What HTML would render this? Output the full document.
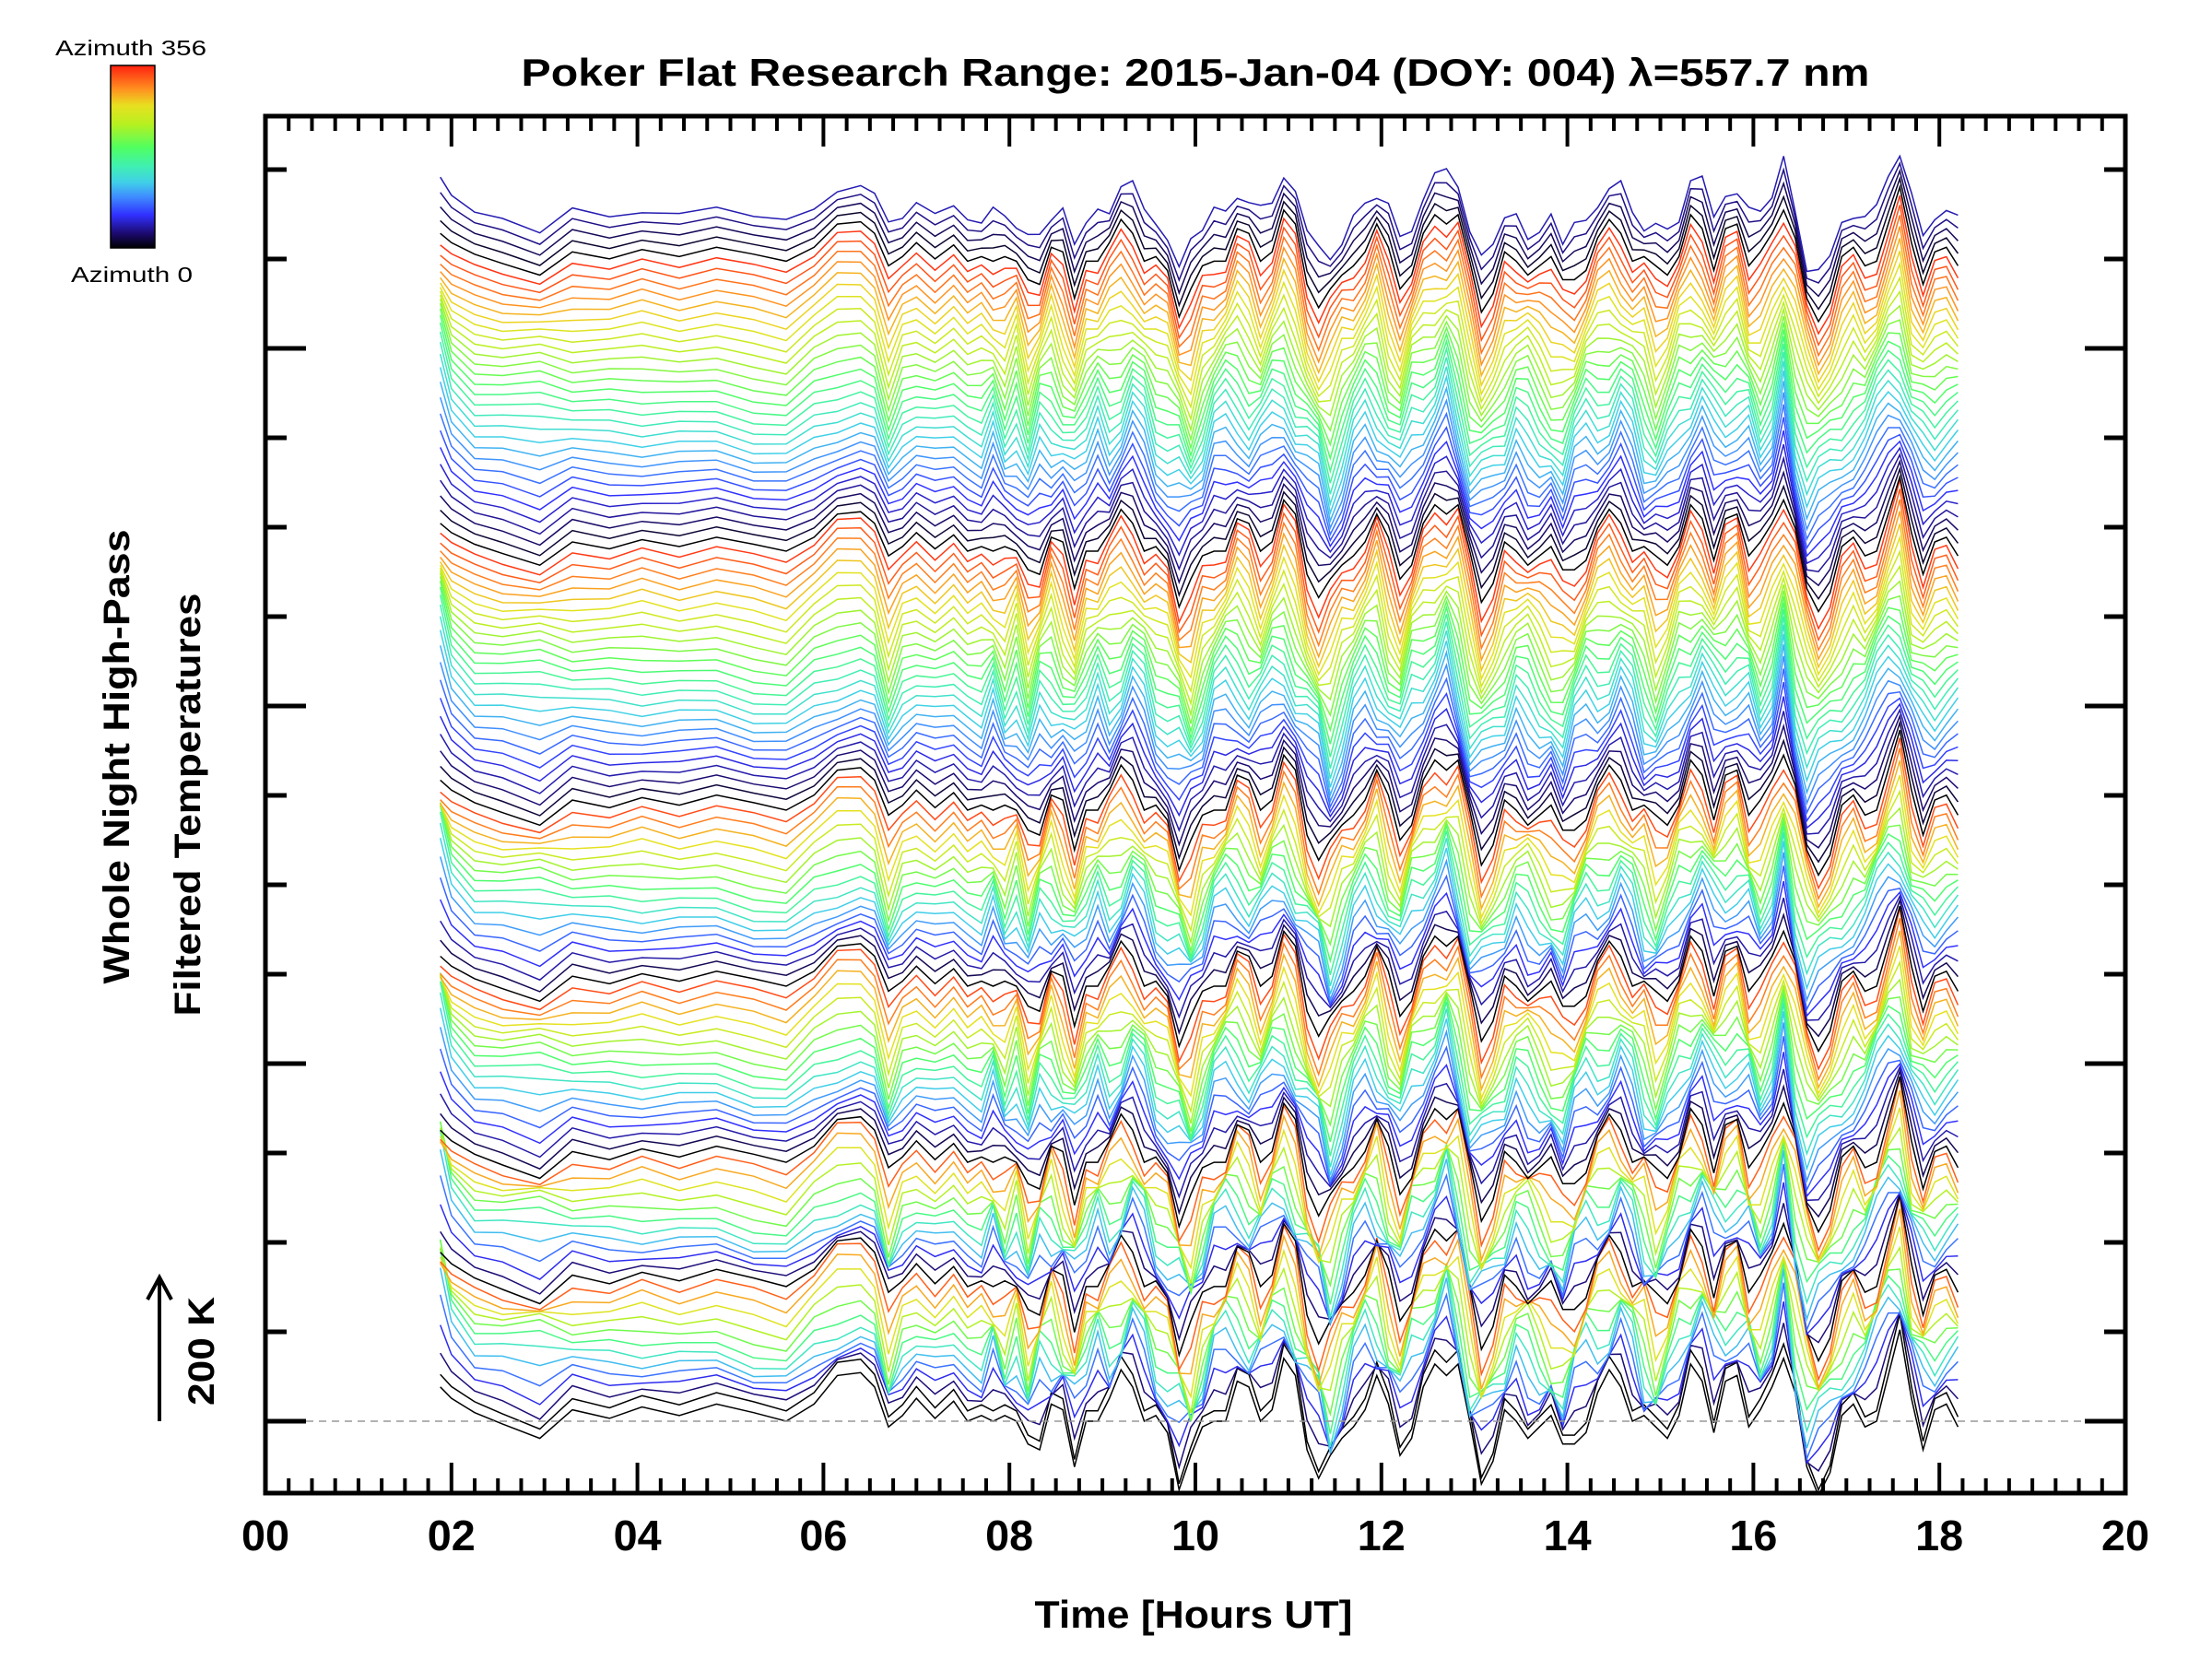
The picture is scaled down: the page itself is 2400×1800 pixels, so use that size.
<!DOCTYPE html>
<html><head><meta charset="utf-8"><style>
html,body{margin:0;padding:0;background:#fff;}
svg{display:block;}
text{font-family:"Liberation Sans",sans-serif;fill:#000;}
</style></head><body>
<svg id="chart" width="2400" height="1800" viewBox="0 0 2400 1800" xmlns="http://www.w3.org/2000/svg">
<defs>
<clipPath id="plotclip"><rect x="290" y="128" width="2014" height="1490"/></clipPath>
<linearGradient id="cbgrad" x1="0" y1="1" x2="0" y2="0">
<stop offset="0" stop-color="#000000"/><stop offset="0.08" stop-color="#1c0a70"/><stop offset="0.18" stop-color="#3030ff"/><stop offset="0.28" stop-color="#3f8cff"/><stop offset="0.36" stop-color="#40d0e8"/><stop offset="0.45" stop-color="#40f0b0"/><stop offset="0.55" stop-color="#50ff60"/><stop offset="0.68" stop-color="#b8f020"/><stop offset="0.78" stop-color="#e8e020"/><stop offset="0.87" stop-color="#ff9020"/><stop offset="1" stop-color="#ff2010"/>
</linearGradient>
</defs>
<rect x="0" y="0" width="2400" height="1800" fill="#fff"/>
<text x="1297" y="93" font-size="42" font-weight="bold" text-anchor="middle" textLength="1463" lengthAdjust="spacingAndGlyphs">Poker Flat Research Range: 2015-Jan-04 (DOY: 004) λ=557.7 nm</text>
<g>
<rect x="120" y="71" width="48" height="198" fill="url(#cbgrad)" stroke="#000" stroke-width="1.5"/>
<text x="142" y="60" font-size="23" text-anchor="middle" textLength="164" lengthAdjust="spacingAndGlyphs">Azimuth 356</text>
<text x="143" y="306" font-size="23" text-anchor="middle" textLength="132" lengthAdjust="spacingAndGlyphs">Azimuth 0</text>
</g>
<g id="lines" clip-path="url(#plotclip)"></g>
<line x1="332" y1="1542" x2="2304" y2="1542" stroke="#999" stroke-width="1.5" stroke-dasharray="8 6"/>
<g id="axes"></g>
<text x="1295" y="1766" font-size="42" font-weight="bold" text-anchor="middle" textLength="345" lengthAdjust="spacingAndGlyphs">Time [Hours UT]</text>
<text transform="translate(140,821) rotate(-90)" font-size="40" font-weight="bold" text-anchor="middle" textLength="493" lengthAdjust="spacingAndGlyphs">Whole Night High-Pass</text>
<text transform="translate(217,873) rotate(-90)" font-size="40" font-weight="bold" text-anchor="middle" textLength="459" lengthAdjust="spacingAndGlyphs">Filtered Temperatures</text>
<g>
<line x1="173" y1="1542" x2="173" y2="1388" stroke="#000" stroke-width="4"/>
<polyline points="160,1410 173,1386 186,1410" fill="none" stroke="#000" stroke-width="4"/>
</g>
<text transform="translate(232,1466) rotate(-90)" font-size="40" font-weight="bold" text-anchor="middle" textLength="118" lengthAdjust="spacingAndGlyphs">200 K</text>
</svg>
<script>
const times = [1.88,2.0,2.25,2.55,2.95,3.3,3.7,4.05,4.45,4.85,5.25,5.6,5.9,6.15,6.4,6.55,6.7,6.85,7.0,7.2,7.4,7.55,
7.7,7.825,7.95,8.075,8.2,8.325,8.45,8.575,8.7,8.825,8.95,9.075,9.2,9.325,9.45,9.575,9.7,9.825,9.95,10.075,10.2,10.325,10.45,10.575,10.7,10.825,10.95,11.075,11.2,11.325,11.45,11.575,11.7,11.825,11.95,12.075,12.2,12.325,12.45,12.575,12.7,12.825,12.95,13.075,13.2,13.325,13.45,13.575,13.7,13.825,13.95,14.075,14.2,14.325,14.45,14.575,14.7,14.825,14.95,15.075,15.2,15.325,15.45,15.575,15.7,15.825,15.95,16.075,16.2,16.325,16.45,16.575,16.7,16.825,16.95,17.075,17.2,17.325,17.45,17.575,17.7,17.825,17.95,18.075,18.2];
const baseK = [120,60,20,10,0,15,10,15,10,20,0,-10,30,60,70,50,-40,10,30,10,30,0,
0,20,-20,10,-60,-10,20,-10,-60,0,30,20,50,70,30,-10,-30,-80,-90,-30,20,40,60,30,10,50,90,40,-30,-70,-100,-40,10,50,60,0,-50,10,50,80,110,70,-40,-90,-60,-10,20,0,-20,-30,-60,-20,20,40,60,70,30,-10,-50,-20,30,70,80,20,50,70,20,-10,40,130,10,-90,-100,-70,-20,10,0,40,100,130,30,-20,0,20,10];
const waveCosK = [-60,-20,-5,-15,-30,5,-5,10,0,10,15,10,0,20,15,10,30,0,10,-5,5,0,
10,-20,30,-10,20,-40,10,30,-20,0,-30,20,40,-10,-30,20,10,-40,30,20,-20,-40,10,30,-10,-30,20,40,-20,-30,40,10,-20,-30,20,30,-10,-40,10,20,-30,30,40,-20,-10,30,-20,-30,10,40,20,-20,-40,10,30,-10,-30,20,40,-10,-20,30,-10,-40,20,10,-30,30,20,-20,40,10,-30,-20,30,20,-10,-40,-20,30,10,-30,20,10,-20];
const waveSinK = [20,10,0,5,-10,10,0,-10,5,0,-5,5,-10,-20,-10,0,20,-10,0,10,-5,0,
-20,30,10,-30,20,10,-40,20,30,-10,20,-30,-10,30,20,-20,-30,10,40,-10,30,10,-30,-20,40,10,-20,-10,30,50,-20,-30,20,10,-40,20,30,-10,-20,10,30,-30,-20,40,20,-10,10,-30,-20,20,-10,40,10,-30,-20,30,10,-40,20,10,-30,-10,30,20,-20,-30,40,10,-10,30,-30,-40,20,10,-10,-30,20,30,10,-20,30,10,-20,-10,20];
const ringSizes = [1,12,12,17,17,25,28,5];
const ringFullSizes = [1,12,12,17,17,25,28,32];
const ringGain = [0.8,0.85,0.8,0.75,0.7,0.7,0.65,0.65];
const traceSpacingK = 14.5;
const xTickLabels = ["00","02","04","06","08","10","12","14","16","18","20"];

const NS = "http://www.w3.org/2000/svg";
const X0 = 288, X1 = 2306, Y0 = 126, Y1 = 1620, BASEY = 1542;
function xScale(h){ return X0 + (X1 - X0) * h / 20; }
function yScale(k){ return BASEY - k * 155 / 200; }
const stops = [[0,[0,0,0]],[0.08,[28,10,112]],[0.18,[48,48,255]],[0.28,[63,140,255]],[0.36,[64,208,232]],[0.45,[64,240,176]],[0.55,[80,255,96]],[0.68,[184,240,32]],[0.78,[232,224,32]],[0.87,[255,144,32]],[1,[255,32,16]]];
function cmap(f){
  for (let i=1;i<stops.length;i++){
    if (f <= stops[i][0]){
      const a=stops[i-1], b=stops[i], t=(f-a[0])/(b[0]-a[0]);
      const c=a[1].map((v,j)=>Math.round(v+(b[1][j]-v)*t));
      return `rgb(${c[0]},${c[1]},${c[2]})`;
    }
  }
  return "rgb(255,32,16)";
}
const lines = document.getElementById("lines");
let idx = 0;
ringSizes.forEach((n, r) => {
  for (let k = 0; k < n; k++) {
    const az = k * 360 / Math.max(ringFullSizes[r], 1);
    const ca = Math.cos(az * Math.PI / 180), sa = Math.sin(az * Math.PI / 180);
    const off = idx * traceSpacingK;
    const g = ringGain[r];
    const pts = times.map((t, i) => {
      const v = off + g * (baseK[i] + waveCosK[i] * ca + waveSinK[i] * sa);
      return xScale(t).toFixed(1) + "," + yScale(v).toFixed(1);
    }).join(" ");
    const pl = document.createElementNS(NS, "polyline");
    pl.setAttribute("points", pts);
    pl.setAttribute("fill", "none");
    pl.setAttribute("stroke", cmap(Math.min(az, 356) / 356));
    pl.setAttribute("stroke-width", "1.5");
    
    
    lines.appendChild(pl);
    idx++;
  }
});
const axes = document.getElementById("axes");
function ln(x1,y1,x2,y2,w){
  const l=document.createElementNS(NS,"line");
  l.setAttribute("x1",x1);l.setAttribute("y1",y1);l.setAttribute("x2",x2);l.setAttribute("y2",y2);
  l.setAttribute("stroke","#000");l.setAttribute("stroke-width",w);
  
  
  axes.appendChild(l);
}
const fr = document.createElementNS(NS,"rect");
fr.setAttribute("x",X0);fr.setAttribute("y",Y0);fr.setAttribute("width",X1-X0);fr.setAttribute("height",Y1-Y0);
fr.setAttribute("fill","none");fr.setAttribute("stroke","#000");fr.setAttribute("stroke-width","5");


axes.appendChild(fr);
for (let q = 1; q < 80; q++) {
  const h = q * 0.25, x = xScale(h);
  const major = q % 8 === 0;
  const L = major ? 33 : 16;
  ln(x, Y1, x, Y1 - L, 4);
  ln(x, Y0, x, Y0 + L, 4);
}
xTickLabels.forEach((lab, i) => {
  const t = document.createElementNS(NS,"text");
  t.setAttribute("x", xScale(i*2));
  t.setAttribute("y", 1682);
  t.setAttribute("font-size","46");
  t.setAttribute("font-weight","bold");
  t.setAttribute("text-anchor","middle");
  t.setAttribute("textLength","52");
  t.setAttribute("lengthAdjust","spacingAndGlyphs");
  t.textContent = lab;
  
  
  axes.appendChild(t);
});
for (let k = 0; k <= 14; k++) {
  const y = BASEY - k * 97;
  const L = (k % 4 === 0) ? 44 : 23;
  ln(X0, y, X0 + L, y, 5);
  ln(X1, y, X1 - L, y, 5);
}
</script>
</body></html>
